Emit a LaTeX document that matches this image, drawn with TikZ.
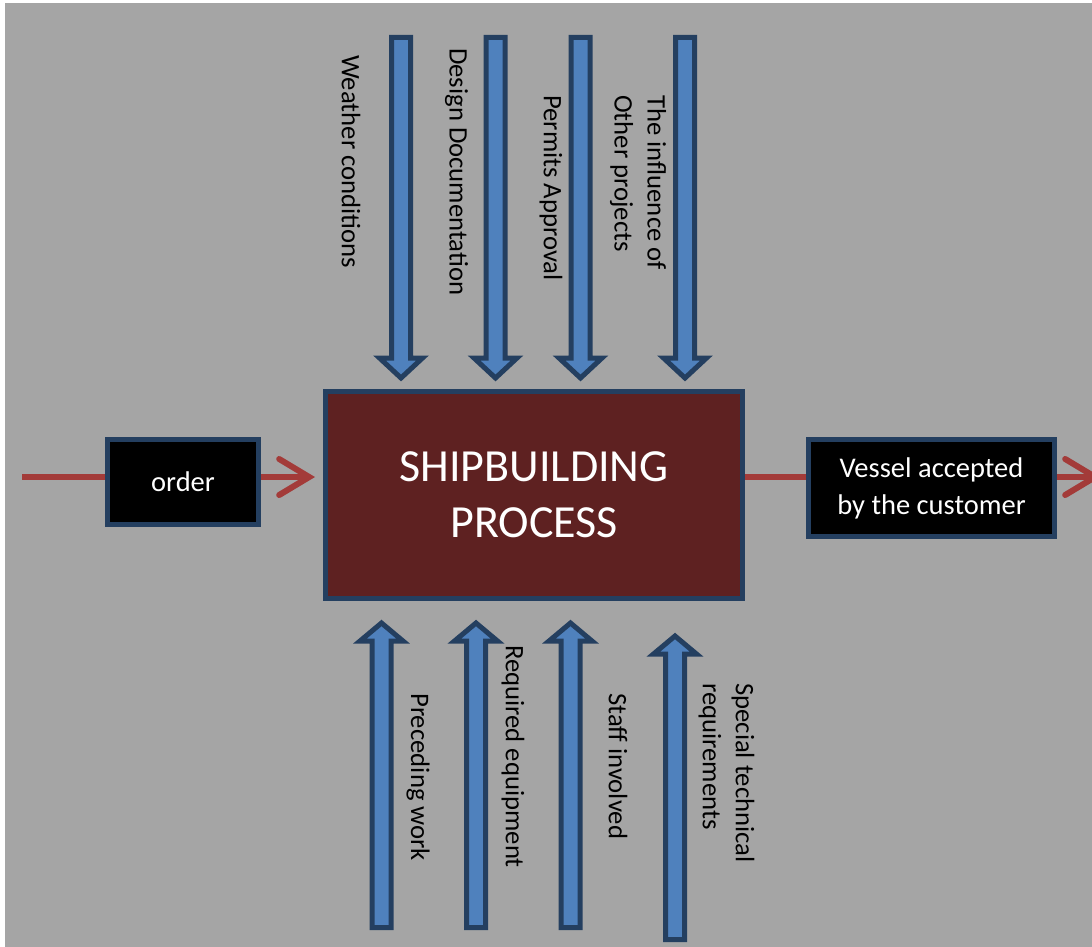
\documentclass[tikz,border=0pt]{standalone}
\usepackage{fontspec}
\setmainfont{Carlito}
\usetikzlibrary{arrows.meta}
\definecolor{canvas}{HTML}{A5A5A5}
\definecolor{arrowfill}{HTML}{4F81BD}
\definecolor{navyline}{HTML}{243F60}
\definecolor{processfill}{HTML}{5E2121}
\definecolor{flowred}{HTML}{A33B39}

% block arrow pointing down: centre x, top y, tip y
\newcommand{\blockdown}[3]{%
  \draw[blockarrow] (#1-9.5,#2) -- (#1+9.5,#2) -- (#1+9.5,#3-20) -- (#1+21.5,#3-20)
    -- (#1,#3) -- (#1-21.5,#3-20) -- (#1-9.5,#3-20) -- cycle;}
% block arrow pointing up: centre x, bottom y, tip y
\newcommand{\blockup}[3]{%
  \draw[blockarrow] (#1-9.5,#2) -- (#1+9.5,#2) -- (#1+9.5,#3+18) -- (#1+21.5,#3+18)
    -- (#1,#3) -- (#1-21.5,#3+18) -- (#1-9.5,#3+18) -- cycle;}

\begin{document}
\begin{tikzpicture}[x=1pt,y=-1pt,
  blockarrow/.style={fill=arrowfill, draw=navyline, line width=5pt, line join=miter},
  sidelabel/.style={rotate=-90, anchor=west, inner sep=0pt, align=left, text=black,
    font=\fontsize{26.7}{33}\selectfont},
  termbox/.style={fill=black, draw=navyline, line width=5pt, text=white, align=center,
    inner sep=0pt, font=\fontsize{28.5}{37}\selectfont},
  flow/.style={draw=flowred, line width=6pt},
  flowhead/.style={-{Straight Barb[length=30pt,width=36pt,line cap=round]}}
]
% canvas
\fill[white] (0,0) rectangle (1092,947);
\fill[canvas] (5,3) rectangle (1092,947);
\useasboundingbox (0,0) rectangle (1092,947);

% boxes
\node[termbox, fill=processfill, minimum width=417pt, minimum height=207pt,
  font=\fontsize{46}{56}\selectfont] (process) at (534,494.5) {SHIPBUILDING\\PROCESS};
\node[termbox, minimum width=151pt, minimum height=85pt] (order) at (183,482) {order};
\node[termbox, minimum width=246pt, minimum height=97pt] (vessel) at (931.5,488)
  {Vessel accepted\\by the customer};

% main flow
\coordinate (src) at (22,477);
\coordinate (sink) at (1101,477);
\draw[flow] (src) -- (src -| order.west);
\draw[flow, flowhead, shorten >=8pt] (src -| order.east) -- (src -| process.west);
\draw[flow] (src -| process.east) -- (src -| vessel.west);
\draw[flow, flowhead] (src -| vessel.east) -- (sink);

% influences from above
\blockdown{401}{37.5}{378}
\blockdown{495.5}{37.5}{378}
\blockdown{580.5}{37.5}{378}
\blockdown{685}{37.5}{378}

% resources from below
\blockup{381.5}{927.5}{623}
\blockup{476}{927.5}{623}
\blockup{570.5}{927.5}{623}
\blockup{675}{939.5}{636}

% labels
\node[sidelabel] (weather) at (351,55) {Weather conditions};
\node[sidelabel] (design) at (456.5,48) {Design Documentation};
\node[sidelabel] (permits) at (551,95) {Permits Approval};
\node[sidelabel] (influence) at (638,95) {The influence of\\Other projects};
\node[sidelabel] (preceding) at (418,693) {Preceding work};
\node[sidelabel] (equipment) at (513,645) {Required equipment};
\node[sidelabel] (staff) at (618,693) {Staff involved};
\node[sidelabel] (special) at (726.5,683) {Special technical\\requirements};
\end{tikzpicture}
\end{document}
